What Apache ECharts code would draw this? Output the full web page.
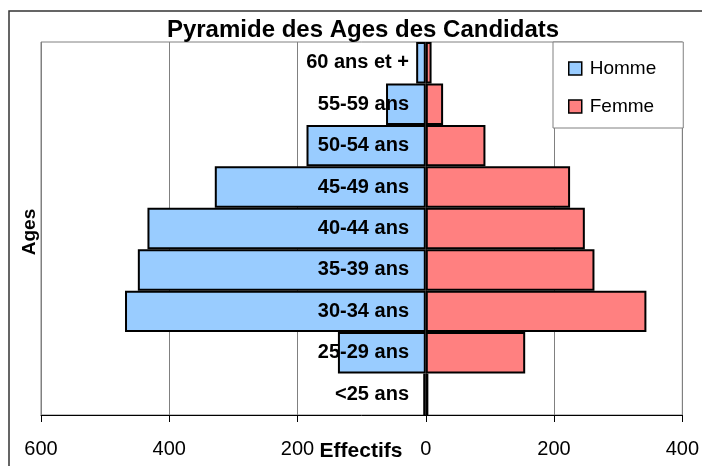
<!DOCTYPE html>
<html>
<head>
<meta charset="utf-8">
<script src="https://cdn.jsdelivr.net/npm/echarts@6/dist/echarts.min.js"></script>
<style>
html,body{margin:0;padding:0;background:#fff;}
#chart{width:702px;height:466px;}
</style>
</head>
<body>
<div id="chart"></div>
<script>
var categories = ['<25 ans','25-29 ans','30-34 ans','35-39 ans','40-44 ans','45-49 ans','50-54 ans','55-59 ans','60 ans et +'];
var homme = [4, 137, 469, 449, 434, 329, 186, 62, 15];
var femme = [4, 155, 344, 263, 248, 225, 93, 27, 9];
var xTicks = {min: -600, max: 400, interval: 200};
var titleText = 'Pyramide des Ages des Candidats';
var xName = 'Effectifs';
var yName = 'Ages';

var chart = echarts.init(document.getElementById('chart'), null, {renderer: 'canvas'});
var FONT = "'Liberation Sans', Arial, sans-serif";
var option = {
  animation: false,
  backgroundColor: '#fff',
  textStyle: {fontFamily: FONT, color: '#000'},
  grid: {left: 41, right: 19, top: 42, bottom: 51, show: true, borderColor: '#808080', borderWidth: 1, backgroundColor: 'transparent'},
  legend: {
    orient: 'vertical',
    left: 553, top: 42,
    padding: [16, 27, 11, 15],
    itemGap: 17,
    itemWidth: 13, itemHeight: 13,
    icon: 'rect',
    borderColor: '#808080', borderWidth: 1,
    backgroundColor: '#fff',
    textStyle: {fontFamily: FONT, fontSize: 19, color: '#000', lineHeight: 21, padding: [0,0,0,3]},
    itemStyle: {borderColor: '#000', borderWidth: 1.5},
    data: ['Homme', 'Femme']
  },
  xAxis: {
    type: 'value',
    min: xTicks.min, max: xTicks.max, interval: xTicks.interval,
    axisLine: {show: true, onZero: false, lineStyle: {color: '#000', width: 1}},
    axisTick: {show: true, length: 7, lineStyle: {color: '#000'}},
    splitLine: {show: true, lineStyle: {color: '#808080', width: 1}},
    axisLabel: {margin: 24, fontSize: 20, color: '#000', fontFamily: FONT, formatter: function(v){return String(Math.abs(v));}}
  },
  yAxis: {
    type: 'category',
    data: categories,
    z: 10,
    axisLine: {show: false},
    axisTick: {show: false},
    splitLine: {show: false},
    axisLabel: {margin: -368, fontSize: 20, fontWeight: 'bold', color: '#000', fontFamily: FONT}
  },
  series: [
    {
      name: 'Homme', type: 'bar', stack: 'total',
      barCategoryGap: '0%',
      itemStyle: {color: '#99CCFF', borderColor: '#000', borderWidth: 2},
      data: homme.map(function(v){return -v;})
    },
    {
      name: 'Femme', type: 'bar', stack: 'total',
      barCategoryGap: '0%',
      itemStyle: {color: '#FF8080', borderColor: '#000', borderWidth: 2},
      data: femme
    }
  ],
  graphic: [
    {type: 'rect', shape: {x: 9, y: 11, width: 720, height: 500}, style: {fill: null, stroke: '#333', lineWidth: 1.5}, silent: true, z: -1},
    {type: 'text', x: 363, y: 30, style: {text: titleText, fontFamily: FONT, fontSize: 24, fontWeight: 'bold', fill: '#000', textAlign: 'center', textVerticalAlign: 'middle'}, z: 20},
    {type: 'text', x: 361, y: 451, style: {text: xName, fontFamily: FONT, fontSize: 21, fontWeight: 'bold', fill: '#000', textAlign: 'center', textVerticalAlign: 'middle'}},
    {type: 'text', x: 30, y: 232, rotation: Math.PI/2, style: {text: yName, fontFamily: FONT, fontSize: 19, fontWeight: 'bold', fill: '#000', textAlign: 'center', textVerticalAlign: 'middle'}}
  ]
};
chart.setOption(option);
</script>
</body>
</html>
